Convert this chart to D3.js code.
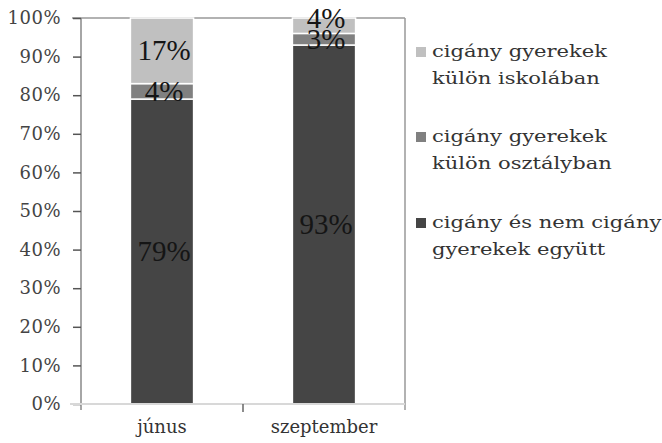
<!DOCTYPE html>
<html>
<head>
<meta charset="utf-8">
<script src="https://d3js.org/d3.v7.min.js"></script>
<style>
body { margin: 0; background: #fff; }
</style>
</head>
<body>
<div id="chart"></div>
<script>
var categories = ['júnus', 'szeptember'];
var seriesNames = [
    ['cigány és nem cigány', 'gyerekek együtt'],
    ['cigány gyerekek', 'külön osztályban'],
    ['cigány gyerekek', 'külön iskolában']
];
var egyutt = [79, 93];
var osztaly = [4, 3];
var iskola = [17, 4];
var tickValues = [0, 10, 20, 30, 40, 50, 60, 70, 80, 90, 100];
var colors = ['#454545', '#808080', '#c0c0c0'];

var wideFont = '"DejaVu Serif", "Liberation Serif", serif';
var timesFont = '"Liberation Serif", "Times New Roman", serif';

var w = 662, h = 443;
var margin = {left: 81, right: 257, top: 18, bottom: 39};

var svg = d3.select('#chart').append('svg').attr('width', w).attr('height', h);

var x = d3.scaleBand().domain(categories).range([margin.left, w - margin.right]).paddingInner(0.61).paddingOuter(0.305);
var y = d3.scaleLinear().domain([0, 100]).range([h - margin.bottom, margin.top]);

var rows = categories.map(function (c, i) {
    return {cat: c, v0: egyutt[i], v1: osztaly[i], v2: iskola[i]};
});
var stack = d3.stack().keys(['v0', 'v1', 'v2'])(rows);

// frame lines
svg.append('line').attr('x1', 72).attr('x2', w - margin.right).attr('y1', y(100)).attr('y2', y(100)).attr('stroke', '#999').attr('stroke-width', 1.5);
svg.append('line').attr('x1', w - margin.right).attr('x2', w - margin.right).attr('y1', y(100)).attr('y2', y(0) + 6).attr('stroke', '#999').attr('stroke-width', 1.5);

// y axis
var yAxis = d3.axisLeft(y).tickValues(tickValues).tickFormat(function (d) { return d + '%'; }).tickSize(8).tickPadding(12);
var gy = svg.append('g').attr('transform', 'translate(' + margin.left + ',0)').call(yAxis);
gy.attr('font-family', wideFont);
gy.select('.domain').attr('stroke', '#888').attr('stroke-width', 1.5).attr('d', 'M0,' + (y(100)) + 'V' + (y(0) + 6));
gy.selectAll('.tick line').attr('stroke', '#555').attr('stroke-width', 1.5);
gy.selectAll('.tick text').attr('font-size', 18).attr('letter-spacing', 0.5).attr('fill', '#444').attr('font-family', wideFont);

// bars
svg.append('g').selectAll('g').data(stack).enter().append('g')
    .attr('fill', function (d, i) { return colors[i]; })
    .selectAll('rect').data(function (d) { return d; }).enter().append('rect')
    .attr('x', function (d) { return x(d.data.cat); })
    .attr('width', x.bandwidth())
    .attr('y', function (d) { return y(d[1]); })
    .attr('height', function (d) { return y(d[0]) - y(d[1]); })
    .attr('stroke', '#fff').attr('stroke-width', 1.5);

// x axis
svg.append('line').attr('x1', 70).attr('x2', w - margin.right).attr('y1', y(0)).attr('y2', y(0)).attr('stroke', '#d8d8d8').attr('stroke-width', 2);
svg.append('line').attr('x1', (margin.left + w - margin.right) / 2).attr('x2', (margin.left + w - margin.right) / 2).attr('y1', y(0)).attr('y2', y(0) + 8).attr('stroke', '#666').attr('stroke-width', 1.5);
categories.forEach(function (c) {
    svg.append('text').attr('x', x(c) + x.bandwidth() / 2).attr('y', y(0) + 29).attr('text-anchor', 'middle')
        .attr('font-family', wideFont).attr('font-size', 18).attr('fill', '#333').text(c);
});

// value labels (nudge small top segments up so labels don't collide)
categories.forEach(function (c, i) {
    var prevY = null;
    stack.forEach(function (s) {
        var d = s[i];
        var ly = y((d[0] + d[1]) / 2);
        if (prevY !== null && prevY - ly < 21) ly = prevY - 21;
        prevY = ly;
        svg.append('text').attr('x', x(c) + x.bandwidth() / 2 + 2).attr('y', ly)
            .attr('dy', '0.33em').attr('text-anchor', 'middle')
            .attr('font-family', timesFont).attr('font-size', 29).attr('fill', '#151515')
            .text((d[1] - d[0]) + '%');
    });
});

// legend
var legendY = [52, 137, 223];
[2, 1, 0].forEach(function (k, i) {
    svg.append('rect').attr('x', 416).attr('y', legendY[i] - 5).attr('width', 10).attr('height', 10).attr('fill', colors[k]);
    var lg = svg.append('g').attr('transform', 'translate(432,' + legendY[i] + ') scale(1.24,1)');
    seriesNames[k].forEach(function (line, j) {
        lg.append('text').attr('x', 0).attr('y', j * 27).attr('dy', '0.3em')
            .attr('font-family', wideFont).attr('font-size', 17).attr('fill', '#333').text(line);
    });
});
</script>
</body>
</html>
